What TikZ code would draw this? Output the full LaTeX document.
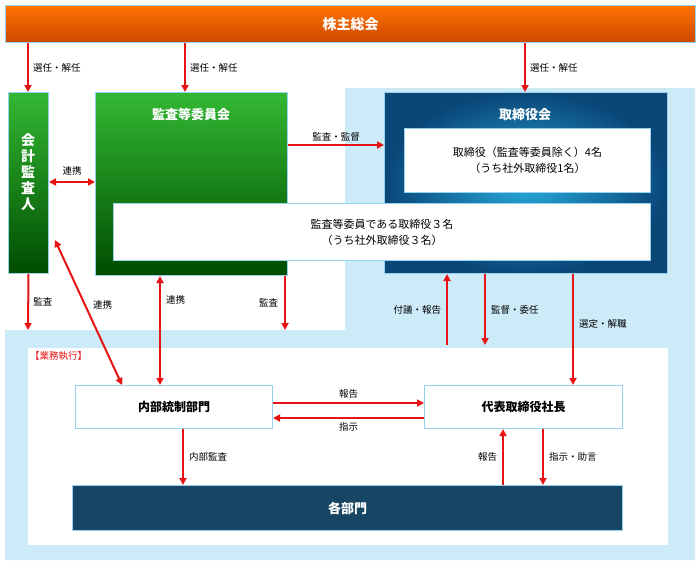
\documentclass[tikz,border=0pt]{standalone}
\usepackage{fontspec}
\setmainfont{Noto Sans CJK JP}
\usetikzlibrary{arrows.meta}
\definecolor{lblue}{RGB}{205,234,248}
\definecolor{edge}{RGB}{150,210,238}
\definecolor{arr}{RGB}{230,20,20}
\definecolor{bcenter}{RGB}{40,170,220}
\definecolor{bouter}{RGB}{10,70,120}
\definecolor{deptc}{RGB}{22,70,100}
\tikzset{
  box/.style={draw=edge,line width=1pt,anchor=north west,inner sep=0pt},
  wbox/.style={box,fill=white,align=center,font=\fontsize{11}{16}\selectfont},
  gbox/.style={box,top color=green!65!black!80,bottom color=green!30!black,text=white},
  ar/.style={-{Triangle[length=7pt,width=7pt]},arr,line width=2pt},
  dar/.style={{Triangle[length=7pt,width=7pt]}-{Triangle[length=7pt,width=7pt]},arr,line width=2pt},
  lbl/.style={font=\fontsize{9.5}{11}\selectfont,inner sep=1pt,text=black}
}
\begin{document}
\begin{tikzpicture}[x=1pt,y=-1pt]
\useasboundingbox (0,0) rectangle (700,565);
% background areas
\fill[lblue] (345,88) -- (695,88) -- (695,560) -- (5,560) -- (5,330) -- (345,330) -- cycle;
\fill[white] (28,348) rectangle (668,545);
\node[anchor=north west,text=arr,font=\fontsize{9.5}{11}\selectfont,inner sep=0pt] at (30,351) {【業務執行】};

% upper row
\node[box,top color=orange!90!red,bottom color=orange!70!red!80!black,minimum width=690pt,minimum height=37pt,text=white,font=\bfseries\fontsize{14}{16}\selectfont] (meeting) at (5,5) {株主総会};
\node[gbox,minimum width=40pt,minimum height=181pt] (auditor) at (8,92) {};
\node[text=white,font=\bfseries\fontsize{14}{16}\selectfont,align=center] at (28,172) {会\\計\\監\\査\\人};
\node[gbox,minimum width=192pt,minimum height=183pt] (committee) at (95,92) {};
\node[text=white,font=\bfseries\fontsize{13}{15}\selectfont] at (191,115) {監査等委員会};
\node[box,inner color=bcenter,outer color=bouter,minimum width=283pt,minimum height=181pt] (board) at (384,92) {};
\node[text=white,font=\bfseries\fontsize{13}{15}\selectfont] at (525,115) {取締役会};
\node[wbox,minimum width=246pt,minimum height=64pt] (directors) at (404,128) {取締役（監査等委員除く）4名\\（うち社外取締役1名）};
\node[wbox,minimum width=537pt,minimum height=57pt] (members) at (113,203) {監査等委員である取締役３名\\（うち社外取締役３名）};

% lower row
\node[wbox,minimum width=197pt,minimum height=43pt,font=\bfseries\fontsize{12}{14}\selectfont] (control) at (75,385) {内部統制部門};
\node[wbox,minimum width=198pt,minimum height=43pt,font=\bfseries\fontsize{12}{14}\selectfont] (president) at (424,385) {代表取締役社長};
\node[box,fill=deptc,minimum width=550pt,minimum height=45pt,text=white,font=\bfseries\fontsize{13}{15}\selectfont] (depts) at (72,485) {各部門};

% election arrows
\foreach \t/\x in {auditor/28,committee/185,board/525}{
  \draw[ar] (meeting.south -| \x,0) -- (\t.north -| \x,0)
    node[lbl,midway,right=3pt] {選任・解任};
}
\draw[ar] (committee.east |- 0,145) -- (board.west |- 0,145) node[lbl,midway,above=2pt] {監査・監督};
\draw[dar] (auditor.east |- 0,182) -- (committee.west |- 0,182) node[lbl,midway,above=5pt] {連携};

% middle arrows
\draw[ar] (auditor.south) -- (28,330) node[lbl,midway,right=3pt] {監査};
\draw[dar] (55,240) -- (control.north west -| 122,0) node[lbl,pos=0.45,right=6pt] {連携};
\draw[dar] (committee.south -| 160,0) -- (control.north -| 160,0) node[lbl,pos=0.22,right=4pt] {連携};
\draw[ar] (committee.south -| 285,0) -- (285,330) node[lbl,midway,left=5pt] {監査};
\draw[ar] (447,345) -- (board.south -| 447,0) node[lbl,midway,left=4pt] {付議・報告};
\draw[ar] (board.south -| 485,0) -- (485,345) node[lbl,midway,right=4pt] {監督・委任};
\draw[ar] (board.south -| 573,0) -- (president.north -| 573,0) node[lbl,pos=0.45,right=4pt] {選定・解職};

% lower arrows
\draw[ar] (control.east |- 0,403) -- (president.west |- 0,403) node[lbl,midway,above=3pt] {報告};
\draw[ar] (president.west |- 0,418) -- (control.east |- 0,418) node[lbl,midway,below=3pt] {指示};
\draw[ar] (control.south -| 183,0) -- (depts.north -| 183,0) node[lbl,midway,right=4pt] {内部監査};
\draw[ar] (depts.north -| 503,0) -- (president.south -| 503,0) node[lbl,midway,left=4pt] {報告};
\draw[ar] (president.south -| 543,0) -- (depts.north -| 543,0) node[lbl,midway,right=4pt] {指示・助言};
\end{tikzpicture}
\end{document}
